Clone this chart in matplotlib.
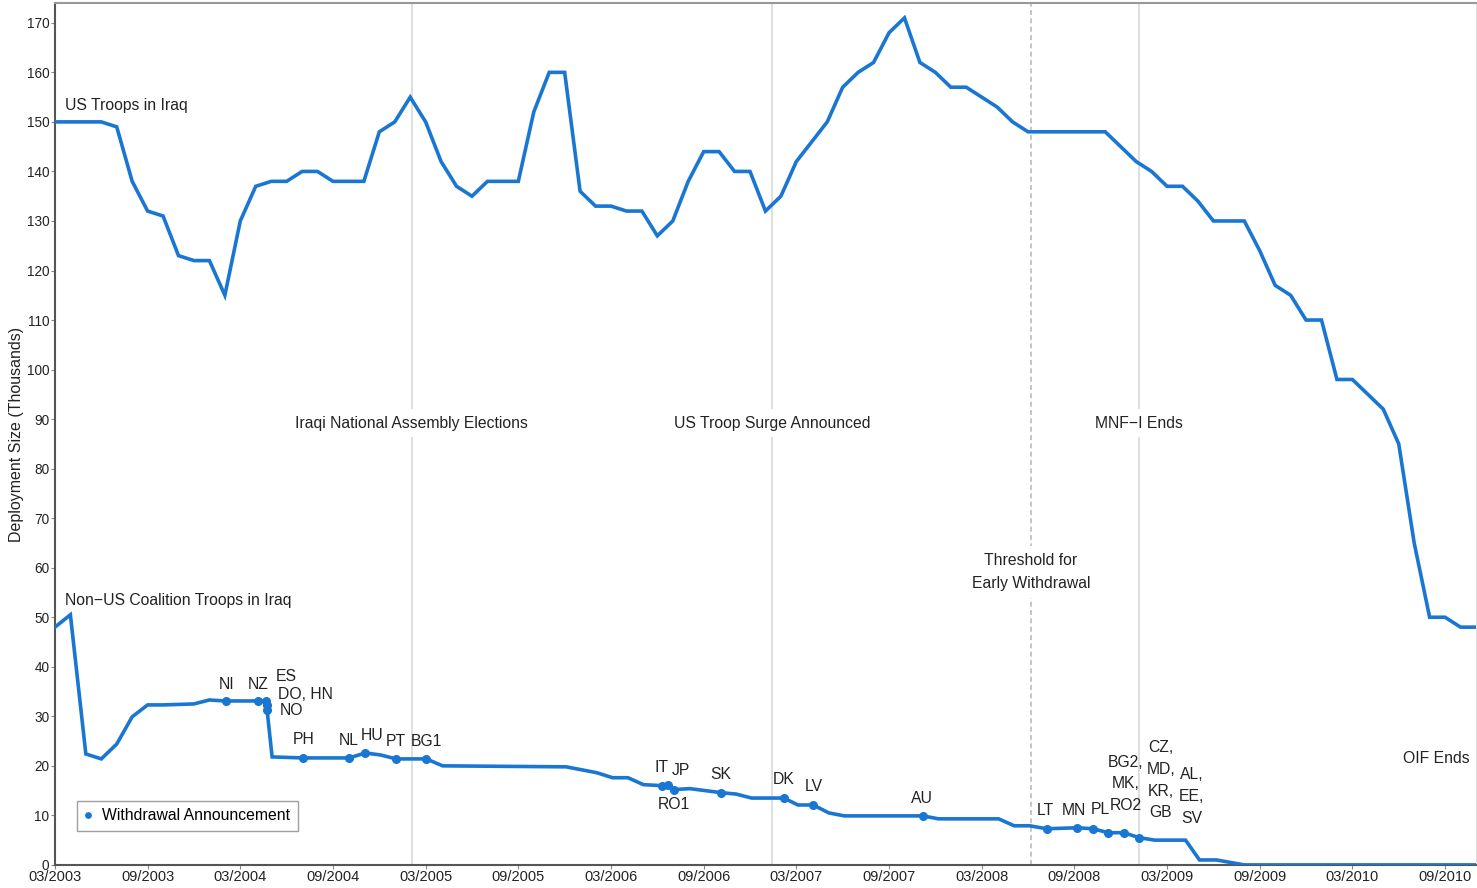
import numpy as np
import matplotlib
matplotlib.use('Agg')
import matplotlib.pyplot as plt

plt.rcParams['font.family'] = ['Liberation Sans', 'DejaVu Sans']

# months since 03/2003
us_month = np.arange(93)
us_troops = [150, 150, 150, 150, 149, 138, 132, 131, 123, 122,
             122, 115, 130, 137, 138, 138, 140, 140, 138, 138,
             138, 148, 150, 155, 150, 142, 137, 135, 138, 138,
             138, 152, 160, 160, 136, 133, 133, 132, 132, 127,
             130, 138, 144, 144, 140, 140, 132, 135, 142, 146,
             150, 157, 160, 162, 168, 171, 162, 160, 157, 157,
             155, 153, 150, 148, 148, 148, 148, 148, 148, 145,
             142, 140, 137, 137, 134, 130, 130, 130, 124, 117,
             115, 110, 110, 98, 98, 95, 92, 85, 65, 50,
             50, 48, 48]

coal_month = [0, 1, 2, 3, 4, 5, 6, 7, 9, 10, 11, 13.15, 13.65, 13.74, 14.06,
              16.07, 19.05, 20.1, 21.07, 22.1, 24.04, 25.1, 33.1, 35.1, 36.1,
              37.1, 38.1, 39.3, 39.7, 40.05, 41.1, 43.1, 44.1, 45.1, 47.2,
              48.1, 49.1, 50.1, 51.1, 56.2, 57.2, 61.1, 62.1, 63.1, 64.2,
              66.2, 67.2, 68.2, 69.2, 70.2, 71.2, 73.2, 74.1, 75.2, 77, 92.2]
coal_troops = [48, 50.5, 22.4, 21.4, 24.4, 29.9, 32.3, 32.3, 32.5, 33.3, 33.1,
               33.1, 33.1, 31.1, 21.8, 21.6, 21.6, 22.6, 22.2, 21.4, 21.4,
               20.0, 19.8, 18.6, 17.6, 17.6, 16.2, 16.0, 16.1, 15.2, 15.4,
               14.6, 14.3, 13.5, 13.5, 12.1, 12.1, 10.5, 9.9, 9.9, 9.3, 9.3,
               7.9, 7.9, 7.3, 7.5, 7.3, 6.5, 6.5, 5.5, 5.0, 5.0, 1.0, 1.0, 0, 0]

# withdrawal announcements
wd_month = [11.08, 13.15, 13.65, 13.7, 13.72, 16.07, 19.05, 20.1, 22.1, 24.04,
            39.3, 39.7, 40.05, 43.1, 47.2, 49.1, 56.2, 64.2, 66.2, 67.2,
            68.2, 69.2, 70.2]
wd_value = [33.1, 33.1, 33.1, 32.2, 31.3, 21.6, 21.6, 22.6, 21.4, 21.4,
            16.0, 16.1, 15.2, 14.6, 13.5, 12.1, 9.9, 7.3, 7.5, 7.3,
            6.5, 6.5, 5.5]

# country label text positions (month, value)
wd_labels = [('NI', 11.08, 36.5), ('NZ', 13.16, 36.5), ('ES', 14.97, 38.0),
             ('DO, HN', 16.2, 34.5), ('NO', 15.3, 31.1), ('PH', 16.07, 25.4),
             ('NL', 19.05, 25.2), ('HU', 20.5, 26.2), ('PT', 22.1, 24.9),
             ('BG1', 24.04, 24.9), ('IT', 39.3, 19.6), ('JP', 40.5, 19.0),
             ('RO1', 40.05, 12.1), ('SK', 43.1, 18.2), ('DK', 47.2, 17.2),
             ('LV', 49.1, 15.8), ('AU', 56.1, 13.5), ('LT', 64.1, 10.9),
             ('MN', 66.0, 10.9), ('PL', 67.7, 11.1),
             ('BG2,\nMK,\nRO2', 69.3, 16.4), ('CZ,\nMD,\nKR,\nGB', 71.6, 17.1),
             ('AL,\nEE,\nSV', 73.6, 13.8)]

events = [('Iraqi National Assembly Elections', 23.1, 89.2, '-'),
          ('US Troop Surge Announced', 46.45, 89.2, '-'),
          ('Threshold for\nEarly Withdrawal', 63.2, 59.1, '--'),
          ('MNF\u2212I Ends', 70.2, 89.2, '-')]

tick_pos = np.arange(0, 92, 6)
tick_lab = ['03/2003', '09/2003', '03/2004', '09/2004', '03/2005', '09/2005',
            '03/2006', '09/2006', '03/2007', '09/2007', '03/2008', '09/2008',
            '03/2009', '09/2009', '03/2010', '09/2010']

blue = '#1976D2'
fig = plt.figure(figsize=(14.77, 8.88), dpi=100)
ax = fig.add_axes([0.0372, 0.026, 0.9621, 0.9706])

for txt, xm, yv, ls in events:
    ax.axvline(xm, color='#d9d9d9' if ls == '-' else '#bbbbbb', lw=1.2, ls=ls,
               dashes=(3, 2) if ls == '--' else (None, None), zorder=1)
    ax.text(xm, yv, txt, ha='center', va='center', fontsize=11.3,
            color='#222222', linespacing=1.65, zorder=3,
            bbox=dict(facecolor='white', edgecolor='none', pad=5))

ax.plot(us_month, us_troops, color=blue, lw=2.6, zorder=4, solid_joinstyle='miter')
ax.plot(coal_month, coal_troops, color=blue, lw=2.6, zorder=4, solid_joinstyle='miter')
ax.plot(wd_month, wd_value, 'o', color=blue, ms=5.5, zorder=5, ls='none',
        label='Withdrawal Announcement')

for txt, xm, yv in wd_labels:
    ax.text(xm, yv, txt, ha='center', va='center', fontsize=11.3,
            color='#222222', linespacing=1.55, zorder=6)

ax.text(0.65, 151.7, 'US Troops in Iraq', fontsize=11.3, color='#222222',
        ha='left', va='bottom')
ax.text(0.65, 51.9, 'Non\u2212US Coalition Troops in Iraq', fontsize=11.3,
        color='#222222', ha='left', va='bottom')
ax.text(89.45, 21.5, 'OIF Ends', fontsize=11.3, color='#222222',
        ha='center', va='center')

ax.set_xlim(0, 92.0)
ax.set_ylim(0, 174)
ax.set_yticks(np.arange(0, 171, 10))
ax.set_xticks(tick_pos)
ax.set_xticklabels(tick_lab)
ax.tick_params(axis='y', labelsize=9.8, length=3, color='#888888',
               labelcolor='#222222', pad=1)
ax.tick_params(axis='x', labelsize=10.5, length=3, color='#888888',
               labelcolor='#222222', pad=1)
ax.set_ylabel('Deployment Size (Thousands)', fontsize=11.5, color='#222222',
              labelpad=2)

ax.spines['left'].set_color('#555555')
ax.spines['bottom'].set_color('#555555')
ax.spines['left'].set_linewidth(1.5)
ax.spines['bottom'].set_linewidth(1.5)
ax.spines['top'].set_color('#999999')
ax.spines['top'].set_linewidth(1.5)
ax.spines['right'].set_color('#dddddd')

leg = ax.legend(loc='lower left', bbox_to_anchor=(0.0097, 0.030), fontsize=11.3,
                frameon=True, fancybox=False, handlelength=0.5,
                handletextpad=0.6, borderpad=0.5, markerscale=0.7)
leg.get_frame().set_edgecolor('#888888')
leg.get_frame().set_linewidth(1.0)

fig.savefig('out.png', dpi=100)
